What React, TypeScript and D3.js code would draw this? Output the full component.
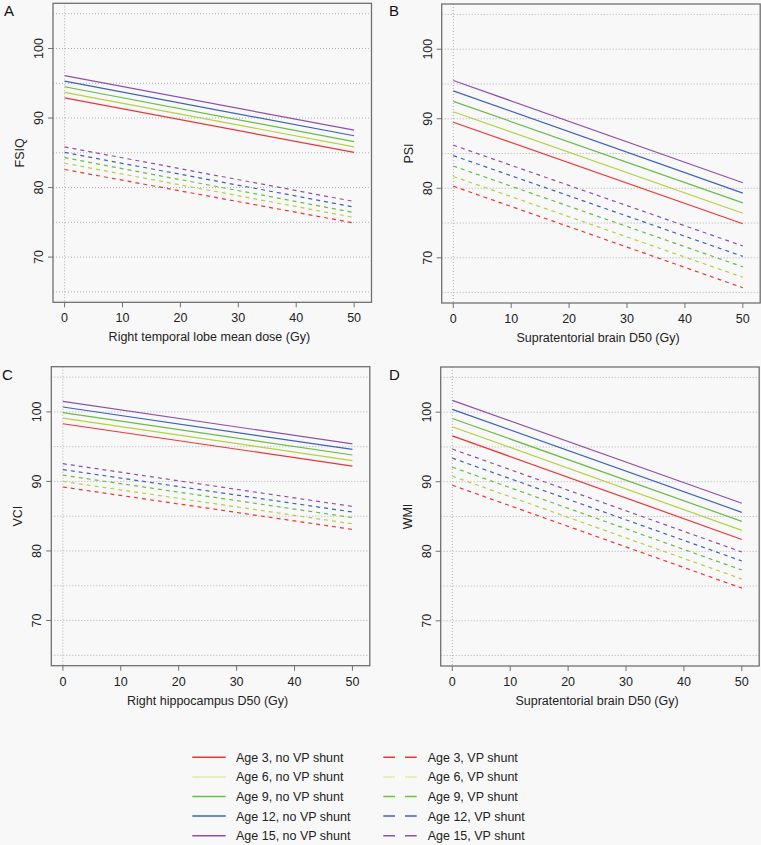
import React from "react";
import * as d3 from "d3";

const doses = [0, 50];
const ageLabels = ["Age 3", "Age 6", "Age 9", "Age 12", "Age 15"];
const plotColors = ["#ee3535", "#b3d13f", "#6cba48", "#3f63b8", "#9150a8"];
const legendColors = ["#ee3535", "#e3e8a6", "#6cba48", "#3f63b8", "#9150a8"];
const yTicks = [70, 80, 90, 100];
const gridYs = [65, 70, 75, 80, 85, 90, 95, 100, 105];
const xTicks = [0, 10, 20, 30, 40, 50];

// values at dose 0 and dose 50, per age (3,6,9,12,15)
const fsiqNoShunt = [[92.9, 85.05], [93.7, 85.85], [94.5, 86.6], [95.3, 87.45], [96.1, 88.25]];
const fsiqShunt = [[82.6, 74.9], [83.5, 75.7], [84.3, 76.4], [85.05, 77.2], [85.85, 78.0]];
const psiNoShunt = [[89.5, 74.9], [91.0, 76.4], [92.5, 77.9], [94.0, 79.3], [95.5, 80.8]];
const psiShunt = [[80.3, 65.7], [81.7, 67.2], [83.2, 68.7], [84.7, 70.2], [86.2, 71.7]];
const vciNoShunt = [[98.3, 92.2], [99.1, 93.0], [99.9, 93.8], [100.7, 94.6], [101.5, 95.4]];
const vciShunt = [[89.2, 83.1], [90.0, 83.9], [90.9, 84.8], [91.7, 85.6], [92.55, 86.4]];
const wmiNoShunt = [[96.6, 81.7], [97.9, 83.0], [99.1, 84.3], [100.4, 85.6], [101.7, 86.9]];
const wmiShunt = [[89.5, 74.7], [90.8, 76.0], [92.1, 77.3], [93.4, 78.6], [94.7, 79.9]];

const panels = [
  { letter: "A", ylab: "FSIQ", xlab: "Right temporal lobe mean dose (Gy)", solid: fsiqNoShunt, dashed: fsiqShunt, left: 53, top: 3.3, lx: 4, ly: 16 },
  { letter: "B", ylab: "PSI", xlab: "Supratentorial brain D50 (Gy)", solid: psiNoShunt, dashed: psiShunt, left: 441.7, top: 4, lx: 389, ly: 16 },
  { letter: "C", ylab: "VCI", xlab: "Right hippocampus D50 (Gy)", solid: vciNoShunt, dashed: vciShunt, left: 51.3, top: 366.7, lx: 2, ly: 380 },
  { letter: "D", ylab: "WMI", xlab: "Supratentorial brain D50 (Gy)", solid: wmiNoShunt, dashed: wmiShunt, left: 440.7, top: 367, lx: 389, ly: 380 },
];

const BOX_W = 318.5;
const BOX_H = 299;
const FONT = "'Liberation Sans', Arial, Helvetica, sans-serif";

function Panel({ p }: { p: typeof panels[number] }) {
  const x = d3.scaleLinear().domain([-2, 53]).range([0, BOX_W]);
  const y = d3.scaleLinear().domain([63.5, 106.5]).range([BOX_H, 0]);
  const line = d3
    .line<number>()
    .x((_, i) => x(doses[i]))
    .y((v) => y(v));
  return (
    <g transform={`translate(${p.left},${p.top})`}>
      {gridYs.map((g) => (
        <line key={"g" + g} x1={0} x2={BOX_W} y1={y(g)} y2={y(g)} stroke="#b0b0b0" strokeWidth={1} strokeDasharray="1,2" />
      ))}
      <line x1={x(0)} x2={x(0)} y1={0} y2={BOX_H} stroke="#b0b0b0" strokeWidth={1} strokeDasharray="1,2" />
      {p.dashed.map((vals, i) => (
        <path key={"d" + i} d={line(vals) || ""} fill="none" stroke={plotColors[i]} strokeWidth={1.2} strokeDasharray="4,4" />
      ))}
      {p.solid.map((vals, i) => (
        <path key={"s" + i} d={line(vals) || ""} fill="none" stroke={plotColors[i]} strokeWidth={1.2} />
      ))}
      <rect x={0} y={0} width={BOX_W} height={BOX_H} fill="none" stroke="#707070" strokeWidth={1.3} />
      {yTicks.map((t) => (
        <g key={"yt" + t}>
          <line x1={-5} x2={0} y1={y(t)} y2={y(t)} stroke="#707070" strokeWidth={1} />
          <text
            transform={`translate(${-10},${y(t)}) rotate(-90)`}
            textAnchor="middle"
            fontSize={12.5}
            fontFamily={FONT}
            fill="#222"
          >
            {t}
          </text>
        </g>
      ))}
      {xTicks.map((t) => (
        <g key={"xt" + t}>
          <line x1={x(t)} x2={x(t)} y1={BOX_H} y2={BOX_H + 5} stroke="#707070" strokeWidth={1} />
          <text x={x(t)} y={BOX_H + 20} textAnchor="middle" fontSize={12.5} fontFamily={FONT} fill="#222">
            {t}
          </text>
        </g>
      ))}
      <text x={(x(0) + x(50)) / 2} y={BOX_H + 39} textAnchor="middle" fontSize={12.5} fontFamily={FONT} fill="#222">
        {p.xlab}
      </text>
      <text
        transform={`translate(${-29},${BOX_H / 2}) rotate(-90)`}
        textAnchor="middle"
        fontSize={12.5}
        fontFamily={FONT}
        fill="#222"
      >
        {p.ylab}
      </text>
    </g>
  );
}

export default function App() {
  const legendY = d3.scaleLinear().domain([0, 4]).range([757.3, 835.7]);
  return (
    <svg width={761} height={845} style={{ position: "absolute", left: 0, top: 0, background: "#f8f8f8" }}>
      <rect x={0} y={0} width={761} height={845} fill="#f8f8f8" />
      {panels.map((p) => (
        <text key={"L" + p.letter} x={p.lx} y={p.ly} fontSize={15} fontFamily={FONT} fill="#111">
          {p.letter}
        </text>
      ))}
      {panels.map((p) => (
        <Panel key={p.letter} p={p} />
      ))}
      {ageLabels.map((a, i) => (
        <g key={"leg" + i}>
          <line x1={192.3} x2={225.7} y1={legendY(i)} y2={legendY(i)} stroke={legendColors[i]} strokeWidth={1.5} />
          <text x={236} y={legendY(i) + 4.5} fontSize={12.5} fontFamily={FONT} fill="#222">
            {a}, no VP shunt
          </text>
          <line x1={383.3} x2={416.7} y1={legendY(i)} y2={legendY(i)} stroke={legendColors[i]} strokeWidth={1.5} strokeDasharray="11.7,10" />
          <text x={427.7} y={legendY(i) + 4.5} fontSize={12.5} fontFamily={FONT} fill="#222">
            {a}, VP shunt
          </text>
        </g>
      ))}
    </svg>
  );
}
